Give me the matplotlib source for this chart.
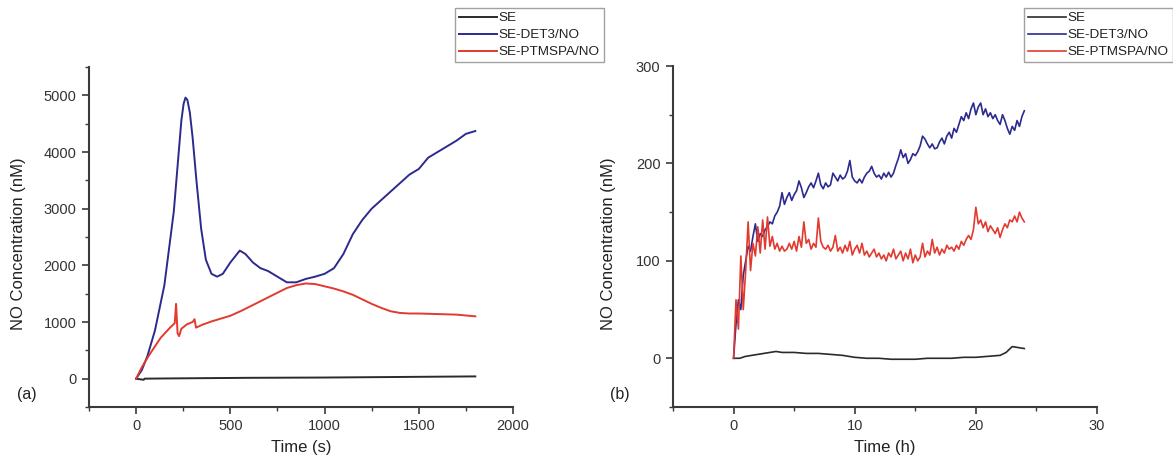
import numpy as np
import matplotlib
matplotlib.use("Agg")
import matplotlib.pyplot as plt
from matplotlib.ticker import MultipleLocator

plt.rcParams['font.family'] = ['Liberation Sans', 'DejaVu Sans']

labels = ["SE", "SE-DET3/NO", "SE-PTMSPA/NO"]
colors = ["#2b2b2b", "#2c2a8e", "#e23a2e"]

# ---------- Panel (a): time in seconds ----------
a_t_se = [0, 40, 45, 200, 600, 1000, 1400, 1800]
a_se = [0, -20, 0, 5, 15, 20, 30, 40]

a_t_det = [0, 30, 60, 100, 150, 200, 225, 240, 252, 262, 272, 285, 300, 320, 345, 370,
           400, 430, 460, 500, 550, 580, 620, 660, 700, 750, 800, 850, 900, 950, 1000,
           1050, 1100, 1150, 1200, 1250, 1300, 1350, 1400, 1450, 1500, 1550, 1600, 1650,
           1700, 1750, 1800]
a_det = [0, 150, 400, 850, 1650, 2950, 3950, 4550, 4850, 4960, 4920, 4700, 4250, 3500,
         2650, 2100, 1850, 1800, 1850, 2050, 2260, 2200, 2050, 1950, 1900, 1800, 1700,
         1700, 1760, 1800, 1850, 1950, 2200, 2550, 2800, 3000, 3150, 3300, 3450, 3600,
         3700, 3900, 4000, 4100, 4200, 4320, 4370]

a_t_red = [0, 30, 70, 130, 180, 205, 212, 220, 228, 240, 270, 300, 310, 318, 350, 400,
           450, 500, 560, 620, 680, 740, 800, 850, 900, 950, 1000, 1050, 1100, 1150,
           1200, 1250, 1300, 1350, 1400, 1450, 1500, 1600, 1700, 1800]
a_red = [0, 200, 420, 720, 900, 980, 1320, 800, 750, 880, 960, 1000, 1050, 900, 950,
         1010, 1060, 1110, 1200, 1300, 1400, 1500, 1600, 1650, 1680, 1670, 1630, 1590,
         1540, 1480, 1400, 1320, 1250, 1190, 1160, 1150, 1150, 1140, 1130, 1100]

# ---------- Panel (b): time in hours ----------
b_t_se = [0, 0.5, 1, 2, 3, 3.5, 4, 5, 6, 7, 8, 9, 10, 11, 12, 13, 14, 15, 16, 17,
          18, 19, 20, 21, 22, 22.5, 23, 23.5, 24]
b_se = [0, 0, 2, 4, 6, 7, 6, 6, 5, 5, 4, 3, 1, 0, 0, -1, -1, -1, 0, 0,
        0, 1, 1, 2, 3, 6, 12, 11, 10]

b_t = [0.0, 0.2, 0.4, 0.6, 0.8, 1.0, 1.2, 1.4, 1.6, 1.8, 2.0, 2.2, 2.4, 2.6, 2.8,
       3.0, 3.2, 3.4, 3.6, 3.8, 4.0, 4.2, 4.4, 4.6, 4.8, 5.0, 5.2, 5.4, 5.6, 5.8,
       6.0, 6.2, 6.4, 6.6, 6.8, 7.0, 7.2, 7.4, 7.6, 7.8, 8.0, 8.2, 8.4, 8.6, 8.8,
       9.0, 9.2, 9.4, 9.6, 9.8, 10.0, 10.2, 10.4, 10.6, 10.8, 11.0, 11.2, 11.4, 11.6, 11.8,
       12.0, 12.2, 12.4, 12.6, 12.8, 13.0, 13.2, 13.4, 13.6, 13.8, 14.0, 14.2, 14.4, 14.6, 14.8,
       15.0, 15.2, 15.4, 15.6, 15.8, 16.0, 16.2, 16.4, 16.6, 16.8, 17.0, 17.2, 17.4, 17.6, 17.8,
       18.0, 18.2, 18.4, 18.6, 18.8, 19.0, 19.2, 19.4, 19.6, 19.8, 20.0, 20.2, 20.4, 20.6, 20.8,
       21.0, 21.2, 21.4, 21.6, 21.8, 22.0, 22.2, 22.4, 22.6, 22.8, 23.0, 23.2, 23.4, 23.6, 23.8,
       24.0]
b_det = [0, 35, 60, 50, 85, 100, 115, 110, 125, 138, 120, 128, 125, 132, 135,
         140, 138, 146, 150, 156, 170, 158, 165, 170, 162, 168, 172, 182, 175, 165,
         170, 176, 180, 175, 182, 190, 178, 174, 180, 176, 178, 190, 186, 182, 188,
         184, 186, 192, 203, 186, 182, 180, 184, 180, 186, 190, 192, 197, 190, 186,
         188, 184, 190, 186, 191, 186, 190, 198, 205, 214, 206, 210, 200, 204, 210,
         208, 212, 218, 228, 225, 220, 216, 220, 215, 216, 222, 226, 220, 228, 232,
         226, 236, 232, 240, 248, 244, 252, 246, 256, 262, 250, 258, 262, 250, 256,
         248, 252, 246, 250, 244, 240, 250, 244, 236, 230, 238, 234, 244, 238, 248,
         254]
b_red = [0, 60, 30, 105, 50, 90, 140, 90, 118, 105, 135, 108, 142, 112, 145,
         115, 125, 112, 118, 110, 115, 110, 112, 118, 112, 120, 110, 125, 114, 140,
         118, 122, 112, 118, 114, 144, 120, 114, 112, 116, 110, 114, 126, 110, 114,
         108, 116, 110, 120, 106, 112, 116, 108, 118, 106, 110, 104, 108, 112, 104,
         108, 102, 106, 100, 108, 104, 112, 102, 106, 110, 100, 108, 102, 112, 98,
         106, 100, 104, 118, 104, 110, 106, 122, 108, 114, 106, 112, 108, 116, 112,
         114, 110, 116, 112, 120, 116, 122, 126, 122, 132, 155, 138, 142, 134, 140,
         130, 136, 132, 128, 134, 124, 132, 138, 134, 142, 140, 146, 140, 150, 144,
         140]

W, H = 1173, 459
fig = plt.figure(figsize=(W / 100, H / 100), dpi=100)

def px_axes(l, r, b, t):
    return fig.add_axes([l / W, 1 - b / H, (r - l) / W, (b - t) / H])

axA = px_axes(89, 513, 407, 67)
axB = px_axes(673, 1097, 407, 66)

lw = 1.4
hA = []
hA.append(axA.plot(a_t_se, a_se, color=colors[0], lw=lw, label=labels[0])[0])
hA.append(axA.plot(a_t_det, a_det, color=colors[1], lw=lw, label=labels[1])[0])
hA.append(axA.plot(a_t_red, a_red, color=colors[2], lw=lw, label=labels[2])[0])

hB = []
hB.append(axB.plot(b_t_se, b_se, color=colors[0], lw=1.2, label=labels[0])[0])
hB.append(axB.plot(b_t, b_det, color=colors[1], lw=1.2, label=labels[1])[0])
hB.append(axB.plot(b_t, b_red, color=colors[2], lw=1.2, label=labels[2])[0])

axA.set_xlim(-250, 2000)
axA.set_ylim(-500, 5500)
axA.xaxis.set_major_locator(MultipleLocator(500))
axA.xaxis.set_minor_locator(MultipleLocator(250))
axA.yaxis.set_major_locator(MultipleLocator(1000))
axA.yaxis.set_minor_locator(MultipleLocator(500))

axB.set_xlim(-5, 30)
axB.set_ylim(-50, 300)
axB.xaxis.set_major_locator(MultipleLocator(10))
axB.xaxis.set_minor_locator(MultipleLocator(5))
axB.yaxis.set_major_locator(MultipleLocator(100))
axB.yaxis.set_minor_locator(MultipleLocator(50))

for ax, xl, tag, ylx, tagx in [(axA, "Time (s)", "(a)", -0.149, -0.146),
                               (axB, "Time (h)", "(b)", -0.134, -0.125)]:
    for s in ["top", "right"]:
        ax.spines[s].set_visible(False)
    for s in ["left", "bottom"]:
        ax.spines[s].set_color("#3a3a3a")
        ax.spines[s].set_linewidth(1.5)
    ax.tick_params(which="major", direction="out", length=5, width=1.2,
                   color="#3a3a3a", labelsize=10.5, labelcolor="#333333", pad=4)
    ax.tick_params(which="minor", direction="out", length=3, width=1.0, color="#3a3a3a")
    ax.set_xlabel(xl, fontsize=12, color="#222222")
    ax.set_ylabel("NO Concentration (nM)", fontsize=12, color="#222222")
    ax.xaxis.set_label_coords(0.5, -0.097)
    ax.yaxis.set_label_coords(ylx, 0.48)
    ax.text(tagx, 0.038, tag, transform=ax.transAxes, fontsize=11.5,
            color="#222222", ha="center", va="center")

for hs, x0 in [(hA, 455), (hB, 1024)]:
    leg = fig.legend(handles=hs, labels=labels, loc="upper left",
                     bbox_to_anchor=(x0 / W, 1 - 8 / H), fontsize=9.7,
                     frameon=True, fancybox=False, borderaxespad=0,
                     handlelength=2.8, handletextpad=0.15, labelspacing=0.33,
                     borderpad=0.3)
    fr = leg.get_frame()
    fr.set_edgecolor("#8a8a8a")
    fr.set_linewidth(1.0)
    for t in leg.get_texts():
        t.set_color("#222222")

fig.savefig("out.png", dpi=100)
